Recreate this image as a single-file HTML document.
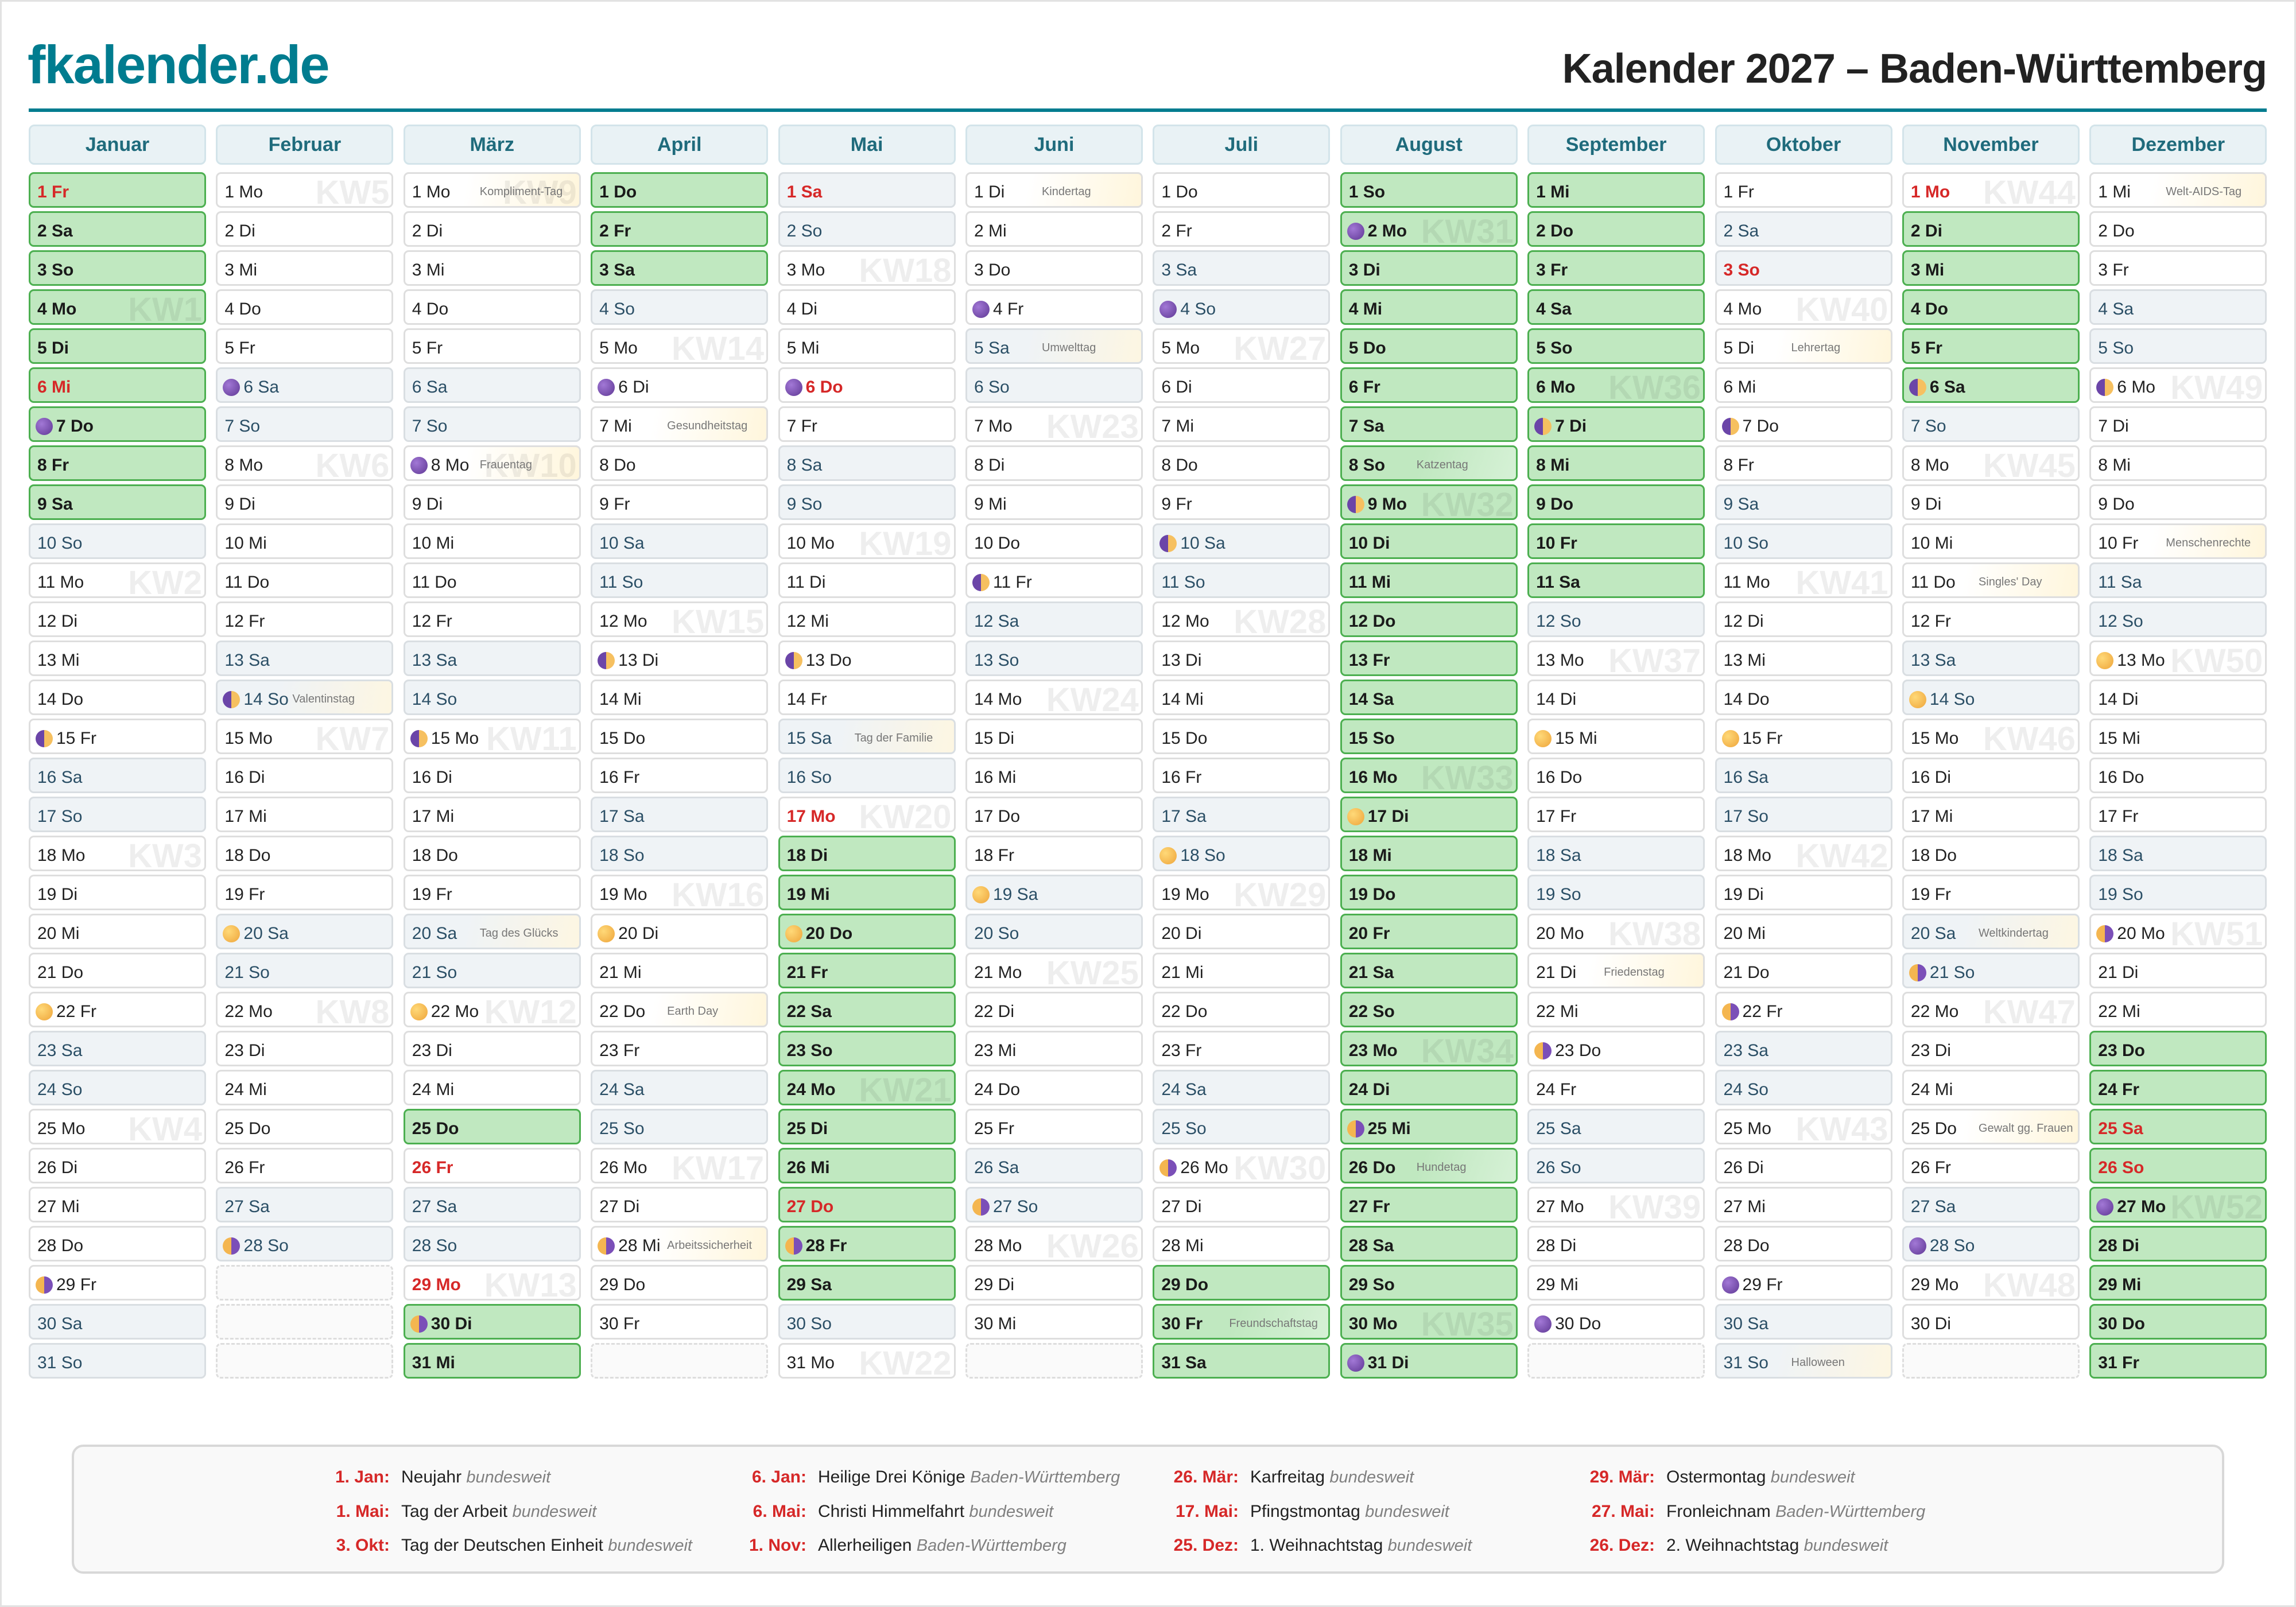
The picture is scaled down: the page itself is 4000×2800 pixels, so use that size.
<!DOCTYPE html>
<html><head><meta charset="utf-8"><style>
*{margin:0;padding:0}
body{width:4000px;height:2800px;position:relative;background:#fff;font-family:"Liberation Sans",sans-serif;overflow:hidden}
.frame{position:absolute;left:0;top:0;width:3994px;height:2794px;border:3px solid #e2e2e2}
.logo{position:absolute;left:48px;top:58px;font-size:94px;font-weight:bold;color:#007c8f;letter-spacing:-2px;line-height:110px}
.title{position:absolute;right:51px;top:70px;font-size:72px;font-weight:bold;color:#222;letter-spacing:-1px;line-height:100px}
.rule{position:absolute;left:50px;top:189px;width:3899px;height:6px;background:#007c8f}
.hd{position:absolute;left:50px;top:217px;display:grid;grid-template-columns:repeat(12,309px);column-gap:17.4px}
.h{height:70px;box-sizing:border-box;background:#e9f2f5;border:3px solid #d3e4ea;border-radius:10px;color:#1f6b7c;font-weight:bold;font-size:34px;display:flex;align-items:center;justify-content:center}
.grid{position:absolute;left:50px;top:300px;display:grid;grid-template-columns:repeat(12,309px);column-gap:17.4px;grid-template-rows:repeat(31,62px);row-gap:6px;grid-auto-flow:column}
.c{position:relative;box-sizing:border-box;border:3px solid #dedede;border-radius:9px;background:#fff;font-size:30px;color:#222;padding:8px 0 0 12px;display:flex;align-items:center;overflow:hidden;white-space:nowrap}
.w{background:#eff3f6;color:#2b4f66;border-color:#d9dee2}
.g{background:#c0e8c0;border-color:#4caf50;font-weight:bold;color:#1a1a1a}
.r{color:#d62828!important;font-weight:bold}
.e{background:#fafafa;border:3px dashed #ddd}
.t{background:linear-gradient(100deg,#fff 35%,#fff6dc)}
.w.t{background:linear-gradient(100deg,#eff3f6 35%,#fdf6e2)}
.g.t{background:linear-gradient(110deg,#c0e8c0 45%,#d6f1d6)}
.c b{position:absolute;right:4px;top:4px;font-size:58px;line-height:58px;font-weight:bold;color:rgba(0,0,0,.065)}
.c u{position:absolute;left:130px;top:50%;transform:translateY(-35%);font-size:20px;color:#777;text-decoration:none;font-weight:normal}
.m{display:inline-block;width:30px;height:30px;border-radius:50%;margin:0 6px 0 -3px;flex:none}
.n{background:radial-gradient(circle at 35% 35%,#a278d6,#5f3894)}
.f{background:radial-gradient(circle at 35% 35%,#ffd978,#eea43a)}
.a{background:linear-gradient(90deg,#6b45a8 50%,#f6c060 50%)}
.z{background:linear-gradient(90deg,#f4b650 50%,#7b4fb8 50%)}
.leg{position:absolute;left:125px;top:2517px;width:3750px;height:225px;box-sizing:border-box;background:#f9f9f9;border:4px solid #d8d8d8;border-radius:20px}
.li{position:absolute;font-size:30px;color:#222;white-space:nowrap;line-height:36px}
.li s{text-decoration:none;color:#d62828;font-weight:bold;display:inline-block;width:200px;text-align:right;margin-right:20px}
.li i{color:#808080;font-size:29px}
</style></head><body>
<div class="frame"></div>
<div class="logo">fkalender.de</div>
<div class="title">Kalender 2027 – Baden-Württemberg</div>
<div class="rule"></div>
<div class="hd"><div class="h">Januar</div><div class="h">Februar</div><div class="h">März</div><div class="h">April</div><div class="h">Mai</div><div class="h">Juni</div><div class="h">Juli</div><div class="h">August</div><div class="h">September</div><div class="h">Oktober</div><div class="h">November</div><div class="h">Dezember</div></div>
<div class="grid">
<!-- Jan -->
<div class="c g r">1 Fr</div><div class="c g">2 Sa</div><div class="c g">3 So</div><div class="c g">4 Mo<b>KW1</b></div><div class="c g">5 Di</div><div class="c g r">6 Mi</div><div class="c g"><i class="m n"></i>7 Do</div><div class="c g">8 Fr</div><div class="c g">9 Sa</div><div class="c w">10 So</div><div class="c">11 Mo<b>KW2</b></div><div class="c">12 Di</div><div class="c">13 Mi</div><div class="c">14 Do</div><div class="c"><i class="m a"></i>15 Fr</div><div class="c w">16 Sa</div><div class="c w">17 So</div><div class="c">18 Mo<b>KW3</b></div><div class="c">19 Di</div><div class="c">20 Mi</div><div class="c">21 Do</div><div class="c"><i class="m f"></i>22 Fr</div><div class="c w">23 Sa</div><div class="c w">24 So</div><div class="c">25 Mo<b>KW4</b></div><div class="c">26 Di</div><div class="c">27 Mi</div><div class="c">28 Do</div><div class="c"><i class="m z"></i>29 Fr</div><div class="c w">30 Sa</div><div class="c w">31 So</div>
<!-- Feb -->
<div class="c">1 Mo<b>KW5</b></div><div class="c">2 Di</div><div class="c">3 Mi</div><div class="c">4 Do</div><div class="c">5 Fr</div><div class="c w"><i class="m n"></i>6 Sa</div><div class="c w">7 So</div><div class="c">8 Mo<b>KW6</b></div><div class="c">9 Di</div><div class="c">10 Mi</div><div class="c">11 Do</div><div class="c">12 Fr</div><div class="c w">13 Sa</div><div class="c w t"><i class="m a"></i>14 So<u>Valentinstag</u></div><div class="c">15 Mo<b>KW7</b></div><div class="c">16 Di</div><div class="c">17 Mi</div><div class="c">18 Do</div><div class="c">19 Fr</div><div class="c w"><i class="m f"></i>20 Sa</div><div class="c w">21 So</div><div class="c">22 Mo<b>KW8</b></div><div class="c">23 Di</div><div class="c">24 Mi</div><div class="c">25 Do</div><div class="c">26 Fr</div><div class="c w">27 Sa</div><div class="c w"><i class="m z"></i>28 So</div><div class="c e"></div><div class="c e"></div><div class="c e"></div>
<!-- Mar -->
<div class="c t">1 Mo<b>KW9</b><u>Kompliment-Tag</u></div><div class="c">2 Di</div><div class="c">3 Mi</div><div class="c">4 Do</div><div class="c">5 Fr</div><div class="c w">6 Sa</div><div class="c w">7 So</div><div class="c t"><i class="m n"></i>8 Mo<b>KW10</b><u>Frauentag</u></div><div class="c">9 Di</div><div class="c">10 Mi</div><div class="c">11 Do</div><div class="c">12 Fr</div><div class="c w">13 Sa</div><div class="c w">14 So</div><div class="c"><i class="m a"></i>15 Mo<b>KW11</b></div><div class="c">16 Di</div><div class="c">17 Mi</div><div class="c">18 Do</div><div class="c">19 Fr</div><div class="c w t">20 Sa<u>Tag des Glücks</u></div><div class="c w">21 So</div><div class="c"><i class="m f"></i>22 Mo<b>KW12</b></div><div class="c">23 Di</div><div class="c">24 Mi</div><div class="c g">25 Do</div><div class="c r">26 Fr</div><div class="c w">27 Sa</div><div class="c w">28 So</div><div class="c r">29 Mo<b>KW13</b></div><div class="c g"><i class="m z"></i>30 Di</div><div class="c g">31 Mi</div>
<!-- Apr -->
<div class="c g">1 Do</div><div class="c g">2 Fr</div><div class="c g">3 Sa</div><div class="c w">4 So</div><div class="c">5 Mo<b>KW14</b></div><div class="c"><i class="m n"></i>6 Di</div><div class="c t">7 Mi<u>Gesundheitstag</u></div><div class="c">8 Do</div><div class="c">9 Fr</div><div class="c w">10 Sa</div><div class="c w">11 So</div><div class="c">12 Mo<b>KW15</b></div><div class="c"><i class="m a"></i>13 Di</div><div class="c">14 Mi</div><div class="c">15 Do</div><div class="c">16 Fr</div><div class="c w">17 Sa</div><div class="c w">18 So</div><div class="c">19 Mo<b>KW16</b></div><div class="c"><i class="m f"></i>20 Di</div><div class="c">21 Mi</div><div class="c t">22 Do<u>Earth Day</u></div><div class="c">23 Fr</div><div class="c w">24 Sa</div><div class="c w">25 So</div><div class="c">26 Mo<b>KW17</b></div><div class="c">27 Di</div><div class="c t"><i class="m z"></i>28 Mi<u>Arbeitssicherheit</u></div><div class="c">29 Do</div><div class="c">30 Fr</div><div class="c e"></div>
<!-- May -->
<div class="c w r">1 Sa</div><div class="c w">2 So</div><div class="c">3 Mo<b>KW18</b></div><div class="c">4 Di</div><div class="c">5 Mi</div><div class="c r"><i class="m n"></i>6 Do</div><div class="c">7 Fr</div><div class="c w">8 Sa</div><div class="c w">9 So</div><div class="c">10 Mo<b>KW19</b></div><div class="c">11 Di</div><div class="c">12 Mi</div><div class="c"><i class="m a"></i>13 Do</div><div class="c">14 Fr</div><div class="c w t">15 Sa<u>Tag der Familie</u></div><div class="c w">16 So</div><div class="c r">17 Mo<b>KW20</b></div><div class="c g">18 Di</div><div class="c g">19 Mi</div><div class="c g"><i class="m f"></i>20 Do</div><div class="c g">21 Fr</div><div class="c g">22 Sa</div><div class="c g">23 So</div><div class="c g">24 Mo<b>KW21</b></div><div class="c g">25 Di</div><div class="c g">26 Mi</div><div class="c g r">27 Do</div><div class="c g"><i class="m z"></i>28 Fr</div><div class="c g">29 Sa</div><div class="c w">30 So</div><div class="c">31 Mo<b>KW22</b></div>
<!-- Jun -->
<div class="c t">1 Di<u>Kindertag</u></div><div class="c">2 Mi</div><div class="c">3 Do</div><div class="c"><i class="m n"></i>4 Fr</div><div class="c w t">5 Sa<u>Umwelttag</u></div><div class="c w">6 So</div><div class="c">7 Mo<b>KW23</b></div><div class="c">8 Di</div><div class="c">9 Mi</div><div class="c">10 Do</div><div class="c"><i class="m a"></i>11 Fr</div><div class="c w">12 Sa</div><div class="c w">13 So</div><div class="c">14 Mo<b>KW24</b></div><div class="c">15 Di</div><div class="c">16 Mi</div><div class="c">17 Do</div><div class="c">18 Fr</div><div class="c w"><i class="m f"></i>19 Sa</div><div class="c w">20 So</div><div class="c">21 Mo<b>KW25</b></div><div class="c">22 Di</div><div class="c">23 Mi</div><div class="c">24 Do</div><div class="c">25 Fr</div><div class="c w">26 Sa</div><div class="c w"><i class="m z"></i>27 So</div><div class="c">28 Mo<b>KW26</b></div><div class="c">29 Di</div><div class="c">30 Mi</div><div class="c e"></div>
<!-- Jul -->
<div class="c">1 Do</div><div class="c">2 Fr</div><div class="c w">3 Sa</div><div class="c w"><i class="m n"></i>4 So</div><div class="c">5 Mo<b>KW27</b></div><div class="c">6 Di</div><div class="c">7 Mi</div><div class="c">8 Do</div><div class="c">9 Fr</div><div class="c w"><i class="m a"></i>10 Sa</div><div class="c w">11 So</div><div class="c">12 Mo<b>KW28</b></div><div class="c">13 Di</div><div class="c">14 Mi</div><div class="c">15 Do</div><div class="c">16 Fr</div><div class="c w">17 Sa</div><div class="c w"><i class="m f"></i>18 So</div><div class="c">19 Mo<b>KW29</b></div><div class="c">20 Di</div><div class="c">21 Mi</div><div class="c">22 Do</div><div class="c">23 Fr</div><div class="c w">24 Sa</div><div class="c w">25 So</div><div class="c"><i class="m z"></i>26 Mo<b>KW30</b></div><div class="c">27 Di</div><div class="c">28 Mi</div><div class="c g">29 Do</div><div class="c g t">30 Fr<u>Freundschaftstag</u></div><div class="c g">31 Sa</div>
<!-- Aug -->
<div class="c g">1 So</div><div class="c g"><i class="m n"></i>2 Mo<b>KW31</b></div><div class="c g">3 Di</div><div class="c g">4 Mi</div><div class="c g">5 Do</div><div class="c g">6 Fr</div><div class="c g">7 Sa</div><div class="c g t">8 So<u>Katzentag</u></div><div class="c g"><i class="m a"></i>9 Mo<b>KW32</b></div><div class="c g">10 Di</div><div class="c g">11 Mi</div><div class="c g">12 Do</div><div class="c g">13 Fr</div><div class="c g">14 Sa</div><div class="c g">15 So</div><div class="c g">16 Mo<b>KW33</b></div><div class="c g"><i class="m f"></i>17 Di</div><div class="c g">18 Mi</div><div class="c g">19 Do</div><div class="c g">20 Fr</div><div class="c g">21 Sa</div><div class="c g">22 So</div><div class="c g">23 Mo<b>KW34</b></div><div class="c g">24 Di</div><div class="c g"><i class="m z"></i>25 Mi</div><div class="c g t">26 Do<u>Hundetag</u></div><div class="c g">27 Fr</div><div class="c g">28 Sa</div><div class="c g">29 So</div><div class="c g">30 Mo<b>KW35</b></div><div class="c g"><i class="m n"></i>31 Di</div>
<!-- Sep -->
<div class="c g">1 Mi</div><div class="c g">2 Do</div><div class="c g">3 Fr</div><div class="c g">4 Sa</div><div class="c g">5 So</div><div class="c g">6 Mo<b>KW36</b></div><div class="c g"><i class="m a"></i>7 Di</div><div class="c g">8 Mi</div><div class="c g">9 Do</div><div class="c g">10 Fr</div><div class="c g">11 Sa</div><div class="c w">12 So</div><div class="c">13 Mo<b>KW37</b></div><div class="c">14 Di</div><div class="c"><i class="m f"></i>15 Mi</div><div class="c">16 Do</div><div class="c">17 Fr</div><div class="c w">18 Sa</div><div class="c w">19 So</div><div class="c">20 Mo<b>KW38</b></div><div class="c t">21 Di<u>Friedenstag</u></div><div class="c">22 Mi</div><div class="c"><i class="m z"></i>23 Do</div><div class="c">24 Fr</div><div class="c w">25 Sa</div><div class="c w">26 So</div><div class="c">27 Mo<b>KW39</b></div><div class="c">28 Di</div><div class="c">29 Mi</div><div class="c"><i class="m n"></i>30 Do</div><div class="c e"></div>
<!-- Oct -->
<div class="c">1 Fr</div><div class="c w">2 Sa</div><div class="c w r">3 So</div><div class="c">4 Mo<b>KW40</b></div><div class="c t">5 Di<u>Lehrertag</u></div><div class="c">6 Mi</div><div class="c"><i class="m a"></i>7 Do</div><div class="c">8 Fr</div><div class="c w">9 Sa</div><div class="c w">10 So</div><div class="c">11 Mo<b>KW41</b></div><div class="c">12 Di</div><div class="c">13 Mi</div><div class="c">14 Do</div><div class="c"><i class="m f"></i>15 Fr</div><div class="c w">16 Sa</div><div class="c w">17 So</div><div class="c">18 Mo<b>KW42</b></div><div class="c">19 Di</div><div class="c">20 Mi</div><div class="c">21 Do</div><div class="c"><i class="m z"></i>22 Fr</div><div class="c w">23 Sa</div><div class="c w">24 So</div><div class="c">25 Mo<b>KW43</b></div><div class="c">26 Di</div><div class="c">27 Mi</div><div class="c">28 Do</div><div class="c"><i class="m n"></i>29 Fr</div><div class="c w">30 Sa</div><div class="c w t">31 So<u>Halloween</u></div>
<!-- Nov -->
<div class="c r">1 Mo<b>KW44</b></div><div class="c g">2 Di</div><div class="c g">3 Mi</div><div class="c g">4 Do</div><div class="c g">5 Fr</div><div class="c g"><i class="m a"></i>6 Sa</div><div class="c w">7 So</div><div class="c">8 Mo<b>KW45</b></div><div class="c">9 Di</div><div class="c">10 Mi</div><div class="c t">11 Do<u>Singles' Day</u></div><div class="c">12 Fr</div><div class="c w">13 Sa</div><div class="c w"><i class="m f"></i>14 So</div><div class="c">15 Mo<b>KW46</b></div><div class="c">16 Di</div><div class="c">17 Mi</div><div class="c">18 Do</div><div class="c">19 Fr</div><div class="c w t">20 Sa<u>Weltkindertag</u></div><div class="c w"><i class="m z"></i>21 So</div><div class="c">22 Mo<b>KW47</b></div><div class="c">23 Di</div><div class="c">24 Mi</div><div class="c t">25 Do<u>Gewalt gg. Frauen</u></div><div class="c">26 Fr</div><div class="c w">27 Sa</div><div class="c w"><i class="m n"></i>28 So</div><div class="c">29 Mo<b>KW48</b></div><div class="c">30 Di</div><div class="c e"></div>
<!-- Dec -->
<div class="c t">1 Mi<u>Welt-AIDS-Tag</u></div><div class="c">2 Do</div><div class="c">3 Fr</div><div class="c w">4 Sa</div><div class="c w">5 So</div><div class="c"><i class="m a"></i>6 Mo<b>KW49</b></div><div class="c">7 Di</div><div class="c">8 Mi</div><div class="c">9 Do</div><div class="c t">10 Fr<u>Menschenrechte</u></div><div class="c w">11 Sa</div><div class="c w">12 So</div><div class="c"><i class="m f"></i>13 Mo<b>KW50</b></div><div class="c">14 Di</div><div class="c">15 Mi</div><div class="c">16 Do</div><div class="c">17 Fr</div><div class="c w">18 Sa</div><div class="c w">19 So</div><div class="c"><i class="m z"></i>20 Mo<b>KW51</b></div><div class="c">21 Di</div><div class="c">22 Mi</div><div class="c g">23 Do</div><div class="c g">24 Fr</div><div class="c g r">25 Sa</div><div class="c g r">26 So</div><div class="c g"><i class="m n"></i>27 Mo<b>KW52</b></div><div class="c g">28 Di</div><div class="c g">29 Mi</div><div class="c g">30 Do</div><div class="c g">31 Fr</div>
</div>
<div class="leg"></div>
<div class="li" style="left:479px;top:2556px"><s>1. Jan:</s>Neujahr <i>bundesweit</i></div>
<div class="li" style="left:479px;top:2616px"><s>1. Mai:</s>Tag der Arbeit <i>bundesweit</i></div>
<div class="li" style="left:479px;top:2675px"><s>3. Okt:</s>Tag der Deutschen Einheit <i>bundesweit</i></div>
<div class="li" style="left:1205px;top:2556px"><s>6. Jan:</s>Heilige Drei Könige <i>Baden-Württemberg</i></div>
<div class="li" style="left:1205px;top:2616px"><s>6. Mai:</s>Christi Himmelfahrt <i>bundesweit</i></div>
<div class="li" style="left:1205px;top:2675px"><s>1. Nov:</s>Allerheiligen <i>Baden-Württemberg</i></div>
<div class="li" style="left:1958px;top:2556px"><s>26. Mär:</s>Karfreitag <i>bundesweit</i></div>
<div class="li" style="left:1958px;top:2616px"><s>17. Mai:</s>Pfingstmontag <i>bundesweit</i></div>
<div class="li" style="left:1958px;top:2675px"><s>25. Dez:</s>1. Weihnachtstag <i>bundesweit</i></div>
<div class="li" style="left:2683px;top:2556px"><s>29. Mär:</s>Ostermontag <i>bundesweit</i></div>
<div class="li" style="left:2683px;top:2616px"><s>27. Mai:</s>Fronleichnam <i>Baden-Württemberg</i></div>
<div class="li" style="left:2683px;top:2675px"><s>26. Dez:</s>2. Weihnachtstag <i>bundesweit</i></div>
</body></html>
